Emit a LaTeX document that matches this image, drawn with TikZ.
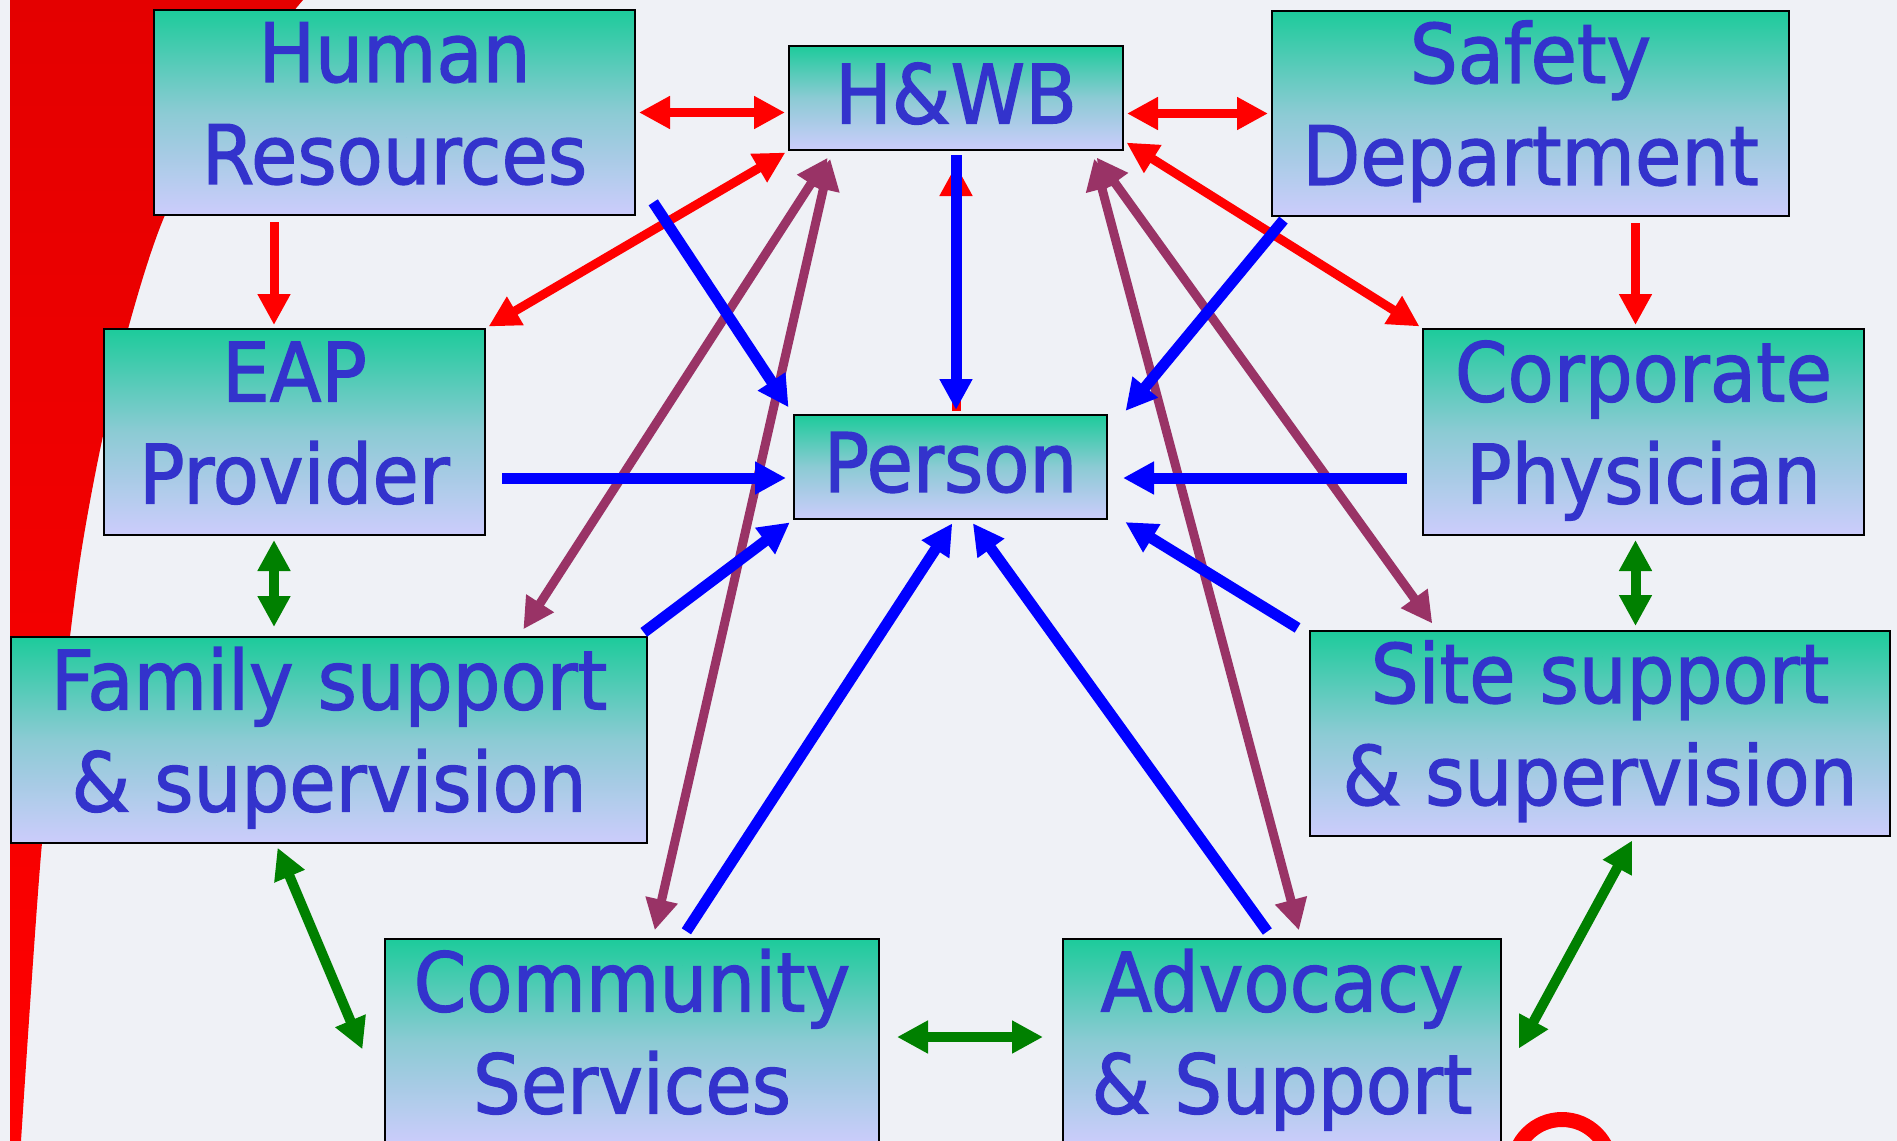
\documentclass[tikz,border=0pt]{standalone}
\usepackage{fontspec}
\setmainfont{DejaVu Sans}[FakeStretch=0.92,FakeBold=1.5]
\usepackage{xcolor}
\usepackage{tikz}
\usetikzlibrary{arrows.meta}

\definecolor{boxtop}{RGB}{29,203,155}
\definecolor{boxmid}{RGB}{140,203,212}
\definecolor{boxbot}{RGB}{204,204,252}
\definecolor{boxtext}{RGB}{51,51,204}
\definecolor{arrred}{RGB}{255,0,0}
\definecolor{arrblue}{RGB}{0,0,255}
\definecolor{arrpurple}{RGB}{153,51,102}
\definecolor{arrgreen}{RGB}{0,128,0}
\definecolor{slide}{RGB}{239,241,246}
\definecolor{swoosh}{RGB}{255,0,0}
\definecolor{swooshdark}{RGB}{228,0,0}

\newcommand{\boxlines}[2]{\begin{tabular}{@{}c@{}}#1\\#2\end{tabular}}

\begin{document}
\begin{tikzpicture}[x=0.5pt,y=-0.5pt,>={Triangle[length=15.5pt,width=15.5pt]}]
\tikzstyle{every node}+=[inner sep=0pt]
\tikzstyle{box}=[draw=black,line width=1pt,top color=boxtop,bottom color=boxbot,middle color=boxmid,text=boxtext,font=\fontsize{41}{51}\selectfont]
\tikzstyle{oneline}=[text depth=5pt]
\tikzstyle{redarrow}=[color=arrred,line width=4.5pt,shorten >=1.5pt,shorten <=1.5pt]
\tikzstyle{bluearrow}=[color=arrblue,line width=5.5pt,shorten >=2pt,shorten <=2pt]
\tikzstyle{purplearrow}=[color=arrpurple,line width=4.5pt,shorten >=4pt,shorten <=4pt]
\tikzstyle{greenarrow}=[color=arrgreen,line width=5pt,shorten >=2pt,shorten <=2pt]
\useasboundingbox (0,0) rectangle (1897,1141);
\clip (0,0) rectangle (1897,1141);
% slide background
\fill [slide] (0,0) rectangle (1897,1141);
\shade [top color=swooshdark,bottom color=swoosh] (10,0) -- plot [smooth] coordinates {(303,0) (228,95) (165,215) (128,329) (100,450) (80,560) (62,700) (42,843) (21,1141)} -- (10,1141) -- cycle;
\draw [swoosh,line width=7.5pt] (1562,1168) circle [radius=24.25pt];
% boxes
\node [box,minimum width=240.5pt,minimum height=102.5pt] (hr) at (394.5,112.5) {\boxlines{Human}{Resources}};
\node [box,oneline,minimum width=167pt,minimum height=52pt] (hwb) at (956,98) {H\&WB};
\node [box,minimum width=258.5pt,minimum height=102.5pt] (sd) at (1530.5,113.5) {\boxlines{Safety}{Department}};
\node [box,minimum width=190.5pt,minimum height=103pt] (eap) at (294.5,432) {\boxlines{EAP}{Provider}};
\node [box,oneline,minimum width=156.5pt,minimum height=52pt] (person) at (950.5,467) {Person};
\node [box,minimum width=220.5pt,minimum height=103pt] (cp) at (1643.5,432) {\boxlines{Corporate}{Physician}};
\node [box,minimum width=318pt,minimum height=103pt] (fs) at (329,740) {\boxlines{Family support}{\& supervision}};
\node [box,minimum width=290pt,minimum height=102.5pt] (ss) at (1600,733.5) {\boxlines{Site support}{\& supervision}};
\node [box,minimum width=247pt,minimum height=103pt] (cs) at (632,1042) {\boxlines{Community}{Services}};
\node [box,minimum width=219pt,minimum height=103pt] (as) at (1282,1042) {\boxlines{Advocacy}{\& Support}};
\coordinate (lcol) at ([xshift=-10.25pt]eap.south);
\coordinate (rcol) at ([xshift=-4pt]cp.south);
\coordinate (pl) at ([yshift=-5.5pt]person.west);
\coordinate (pr) at ([yshift=-5.5pt]person.east);
% red
\draw [redarrow,<->] (hr.east) -- (hr.east -| hwb.west);
\draw [redarrow,<->] (sd.west -| hwb.east) -- (sd.west);
\draw [redarrow,<->] (hwb.south west) -- (eap.north east);
\draw [redarrow,<->] ([yshift=5pt]hwb.south east) -- (cp.north west);
\draw [redarrow,->,shorten <=3pt] (lcol |- hr.south) -- (lcol |- eap.north);
\draw [redarrow,->,shorten <=3pt] (rcol |- sd.south) -- (rcol |- cp.north);
\draw [redarrow,->,shorten >=7pt] (hwb.south |- person.north) -- (hwb.south);
% purple
\draw [purplearrow,<->] ([xshift=-64.5pt]fs.north east) -- ([xshift=22pt]hwb.south west);
\draw [purplearrow,<->] ([xshift=10.5pt]cs.north) -- ([xshift=22pt]hwb.south west);
\draw [purplearrow,<->] ([xshift=64pt]ss.north west) -- ([xshift=-16pt]hwb.south east);
\draw [purplearrow,<->] ([xshift=9.5pt]as.north) -- ([xshift=-16pt]hwb.south east);
% blue
\draw [bluearrow,->] (hwb.south) -- (hwb.south |- person.north);
\draw [bluearrow,->,shorten >=4pt] ([xshift=7.5pt,yshift=8.5pt]hr.south east) -- (person.north west);
\draw [bluearrow,->] ([xshift=7.5pt]sd.south west) -- ([xshift=7.5pt]person.north east);
\draw [bluearrow,->,shorten <=8pt,shorten >=3.5pt] (eap.east |- pl) -- (pl);
\draw [bluearrow,->,shorten <=7.5pt,shorten >=7.5pt] (cp.west |- pr) -- (pr);
\draw [bluearrow,->,shorten <=3pt] ([xshift=-4.5pt]fs.north east) -- (person.south west);
\draw [bluearrow,->] ([xshift=-4pt]ss.north west) -- ([xshift=7pt]person.south east);
\draw [bluearrow,->,shorten <=4pt] ([xshift=25pt]cs.north) -- ([xshift=2pt]person.south);
\draw [bluearrow,->,shorten <=4pt] ([xshift=-5pt]as.north) -- ([xshift=10pt]person.south);
% green
\draw [greenarrow,<->,shorten >=4.5pt] (lcol |- eap.south) -- (lcol |- fs.north);
\draw [greenarrow,<->] (rcol |- cp.south) -- (rcol |- ss.north);
\draw [greenarrow,<->] ([xshift=-26.5pt]fs.south) -- ([xshift=-10pt,yshift=-5.5pt]cs.west);
\draw [greenarrow,<->] ([xshift=17pt]ss.south) -- ([xshift=7.5pt,yshift=-5pt]as.east);
\draw [greenarrow,<->,shorten <=8.5pt,shorten >=9.5pt] ([yshift=2.5pt]cs.east) -- ([yshift=2.5pt]as.west);
\end{tikzpicture}
\end{document}
